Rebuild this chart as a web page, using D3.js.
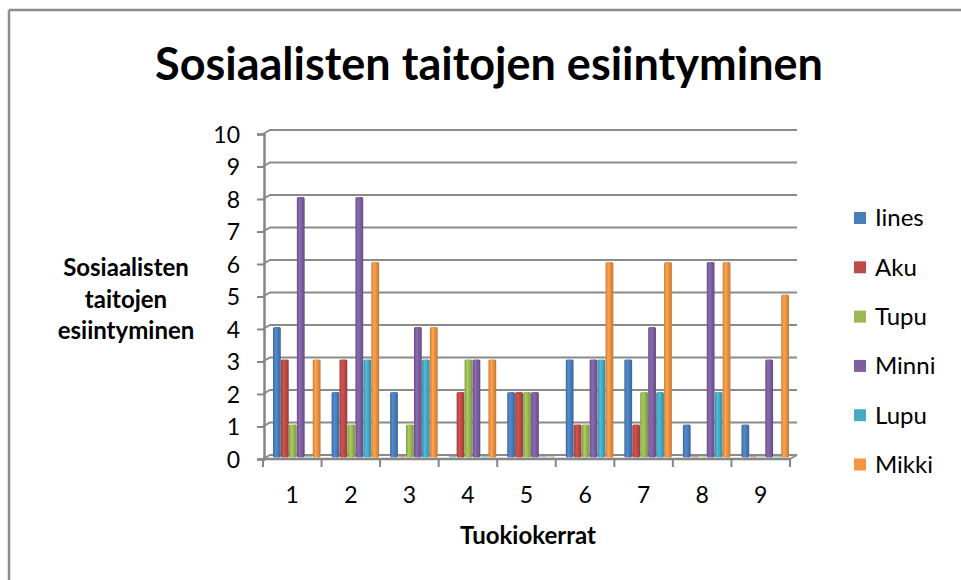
<!DOCTYPE html>
<html>
<head>
<meta charset="utf-8">
<script src="https://cdn.jsdelivr.net/npm/d3@7"></script>
<style>
  body { margin: 0; background: #fff; }
  text { font-family: Lato, "Open Sans", sans-serif; fill: #000; }
</style>
</head>
<body>
<div id="chart"></div>
<script>
var w = 961;
var h = 580;

var categories = ['1', '2', '3', '4', '5', '6', '7', '8', '9'];
var seriesNames = ['Iines', 'Aku', 'Tupu', 'Minni', 'Lupu', 'Mikki'];
var seriesColors = ['#4a7ebb', '#be4b48', '#98b954', '#7d5fa0', '#46aac5', '#f59443'];
var iines = [4, 2, 2, 0, 2, 3, 3, 1, 1];
var aku   = [3, 3, 0, 2, 2, 1, 1, 0, 0];
var tupu  = [1, 1, 1, 3, 2, 1, 2, 0, 0];
var minni = [8, 8, 4, 3, 2, 3, 4, 6, 3];
var lupu  = [0, 3, 3, 0, 0, 3, 2, 2, 0];
var mikki = [3, 6, 4, 3, 0, 6, 6, 6, 5];
var yTicks = [0, 1, 2, 3, 4, 5, 6, 7, 8, 9, 10];

var allSeries = [iines, aku, tupu, minni, lupu, mikki];

// 3D back wall offset
var dx = 7, dy = -4;

var svg = d3.select('#chart').append('svg')
    .attr('width', w)
    .attr('height', h);

var defs = svg.append('defs');
seriesColors.forEach(function(c, i) {
    var g = defs.append('linearGradient').attr('id', 'g' + i)
        .attr('x1', '0%').attr('x2', '100%');
    g.append('stop').attr('offset', '0%').attr('stop-color', d3.color(c).darker(0.5));
    g.append('stop').attr('offset', '35%').attr('stop-color', d3.color(c).brighter(0.3));
    g.append('stop').attr('offset', '100%').attr('stop-color', d3.color(c).darker(0.6));
});

// outer frame
svg.append('line').attr('x1', 9).attr('x2', w).attr('y1', 10).attr('y2', 10)
    .attr('stroke', '#8c8c8c').attr('stroke-width', 2.5);
svg.append('line').attr('x1', 9).attr('x2', 9).attr('y1', 10).attr('y2', h)
    .attr('stroke', '#8c8c8c').attr('stroke-width', 2.5);

var x = d3.scaleBand().domain(categories).range([263, 790]).padding(0);
var y = d3.scaleLinear().domain([0, 10]).range([459, 134]);
var inner = d3.scaleBand().domain(d3.range(6))
    .range([10, x.bandwidth() - 1]).paddingInner(0.02);

// gridlines on back wall
var grid = svg.append('g');
yTicks.forEach(function(t) {
    var yy = y(t);
    grid.append('path')
        .attr('d', 'M263,' + yy + 'L' + (263 + dx) + ',' + (yy + dy) + 'L' + (797) + ',' + (yy + dy))
        .attr('fill', 'none').attr('stroke', '#8a8a8a').attr('stroke-width', 2);
});
// right floor edge
grid.append('path')
    .attr('d', 'M790,' + y(0) + 'L797,' + (y(0) + dy))
    .attr('fill', 'none').attr('stroke', '#8a8a8a').attr('stroke-width', 2);

// bars
var barBase = y(0) - 1.5;
var groups = svg.append('g').selectAll('g')
    .data(categories)
    .enter().append('g')
    .attr('transform', function(d) { return 'translate(' + x(d) + ',0)'; });

groups.selectAll('rect')
    .data(function(d, ci) {
        return allSeries.map(function(s, si) { return { si: si, v: s[ci] }; });
    })
    .enter().append('rect')
    .attr('x', function(d) { return inner(d.si); })
    .attr('width', inner.bandwidth())
    .attr('y', function(d) { return d.v > 0 ? y(d.v) + dy / 2 : barBase - 1.5; })
    .attr('height', function(d) { return d.v > 0 ? barBase - y(d.v) - dy / 2 : 1.5; })
    .attr('rx', 1.5)
    .attr('fill', function(d) { return 'url(#g' + d.si + ')'; })
    .attr('opacity', function(d) { return d.v > 0 ? 1 : 0.6; });

// axes
var yAxis = d3.axisLeft(y).tickValues(yTicks).tickSize(7).tickPadding(17);
var gy = svg.append('g').attr('transform', 'translate(264,0)').call(yAxis);
gy.select('.domain').attr('stroke', '#868686').attr('stroke-width', 2.5);
gy.selectAll('.tick line').attr('stroke', '#868686').attr('stroke-width', 2);
gy.selectAll('.tick text').style('font-size', '23px').attr('dy', '0.35em');

var xTickScale = d3.scalePoint().domain(d3.range(10)).range([263, 790]);
var xAxisG = svg.append('g').attr('transform', 'translate(0,' + y(0) + ')');
xAxisG.append('line').attr('x1', 263).attr('x2', 790)
    .attr('stroke', '#868686').attr('stroke-width', 2.5);
xAxisG.selectAll('line.tk').data(d3.range(10)).enter().append('line')
    .attr('class', 'tk')
    .attr('x1', function(d) { return xTickScale(d); })
    .attr('x2', function(d) { return xTickScale(d); })
    .attr('y1', 0).attr('y2', 8)
    .attr('stroke', '#868686').attr('stroke-width', 2);
xAxisG.selectAll('text').data(categories).enter().append('text')
    .attr('x', function(d) { return x(d) + x.bandwidth() / 2; })
    .attr('y', 44)
    .attr('text-anchor', 'middle')
    .style('font-size', '23px')
    .text(function(d) { return d; });

// titles
svg.append('text').attr('x', 489).attr('y', 80)
    .attr('text-anchor', 'middle')
    .style('font-size', '45px').style('font-weight', 'bold')
    .text('Sosiaalisten taitojen esiintyminen');

svg.append('text').attr('x', 528).attr('y', 544)
    .attr('text-anchor', 'middle')
    .style('font-size', '24px').style('font-weight', 'bold')
    .text('Tuokiokerrat');

var yt = svg.append('text').attr('text-anchor', 'middle')
    .style('font-size', '24px').style('font-weight', 'bold');
['Sosiaalisten', 'taitojen', 'esiintyminen'].forEach(function(s, i) {
    yt.append('tspan').attr('x', 126).attr('y', 276 + i * 31.5).text(s);
});

// legend
var legend = svg.append('g').selectAll('g')
    .data(seriesNames)
    .enter().append('g')
    .attr('transform', function(d, i) { return 'translate(854,' + (218 + i * 49.3) + ')'; });
legend.append('rect').attr('x', 0).attr('y', -6).attr('width', 12).attr('height', 12)
    .attr('fill', function(d, i) { return seriesColors[i]; });
legend.append('text').attr('x', 21).attr('dy', '0.35em')
    .style('font-size', '24px')
    .text(function(d) { return d; });
</script>
</body>
</html>
